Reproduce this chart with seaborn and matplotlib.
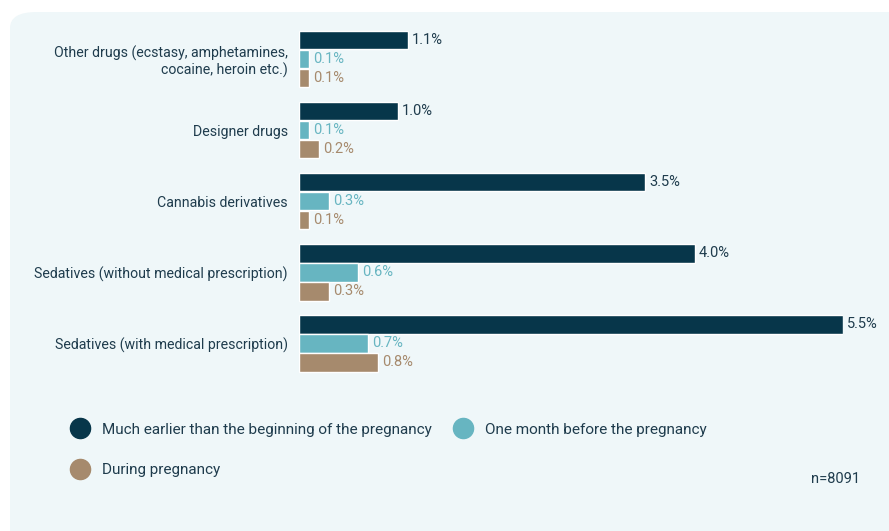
import pandas as pd
import matplotlib.pyplot as plt
import seaborn as sns
from matplotlib.patches import FancyBboxPatch
from matplotlib.lines import Line2D

categories = [
    "Other drugs (ecstasy, amphetamines,\ncocaine, heroin etc.)",
    "Designer drugs",
    "Cannabis derivatives",
    "Sedatives (without medical prescription)",
    "Sedatives (with medical prescription)",
]
periods = [
    "Much earlier than the beginning of the pregnancy",
    "One month before the pregnancy",
    "During pregnancy",
]
much_earlier = [1.1, 1.0, 3.5, 4.0, 5.5]
one_month = [0.1, 0.1, 0.3, 0.6, 0.7]
during = [0.1, 0.2, 0.1, 0.3, 0.8]
colors = ["#07364a", "#67b5c1", "#a68a6d"]
text_color = "#1f3c4d"

rows = []
for series, vals in zip(periods, [much_earlier, one_month, during]):
    for cat, v in zip(categories, vals):
        rows.append({"category": cat, "period": series, "value": v})
df = pd.DataFrame(rows)

sns.set_style("white")
plt.rcParams["font.family"] = ["Roboto", "DejaVu Sans"]

fig = plt.figure(figsize=(8.89, 5.31), dpi=100)
fig.patch.set_facecolor("white")
panel = FancyBboxPatch((10 / 889, -0.1), 1.2, 1 - 12 / 531 + 0.1,
                       boxstyle="round,pad=0,rounding_size=0.03",
                       transform=fig.transFigure, facecolor="#eff7f9",
                       edgecolor="none", zorder=-10)
fig.patches.append(panel)

ax = fig.add_axes([299 / 889, 1 - 379 / 531, (843 - 299) / 889, (379 - 23.5) / 531])
ax.set_facecolor("none")
ax.set_zorder(5)
sns.barplot(data=df, y="category", x="value", hue="period", orient="h",
            palette=colors, gap=0.03, width=0.8, ax=ax, legend=False,
            saturation=1)
ax.set_xlim(0, 5.5)

for cont, col in zip(ax.containers, [text_color, colors[1], colors[2]]):
    ax.bar_label(cont, labels=[f"{b.get_width():.1f}%" for b in cont],
                 padding=3, color=col, fontsize=10.5, clip_on=False)

sns.despine(ax=ax, left=True, bottom=True)
ax.set_xticks([])
ax.set_xlabel("")
ax.set_ylabel("")
ax.tick_params(axis="y", length=0, pad=8, labelsize=10.2, labelcolor=text_color)

handles = [Line2D([], [], marker="o", linestyle="none", markersize=14.5,
                  markerfacecolor=c, markeredgecolor=c) for c in colors]
order = [0, 2, 1]
fig.legend([handles[i] for i in order], [periods[i] for i in order],
           loc="upper left", bbox_to_anchor=(57 / 889, 1 - 409 / 531),
           ncol=2, frameon=False, fontsize=11, labelcolor=text_color,
           handletextpad=0.85, columnspacing=1.45, labelspacing=1.75,
           handlelength=1.2)

fig.text(860 / 889, 1 - 479 / 531, "n=8091", ha="right", va="center",
         fontsize=10.5, color=text_color)

fig.savefig("out.png", dpi=100)
